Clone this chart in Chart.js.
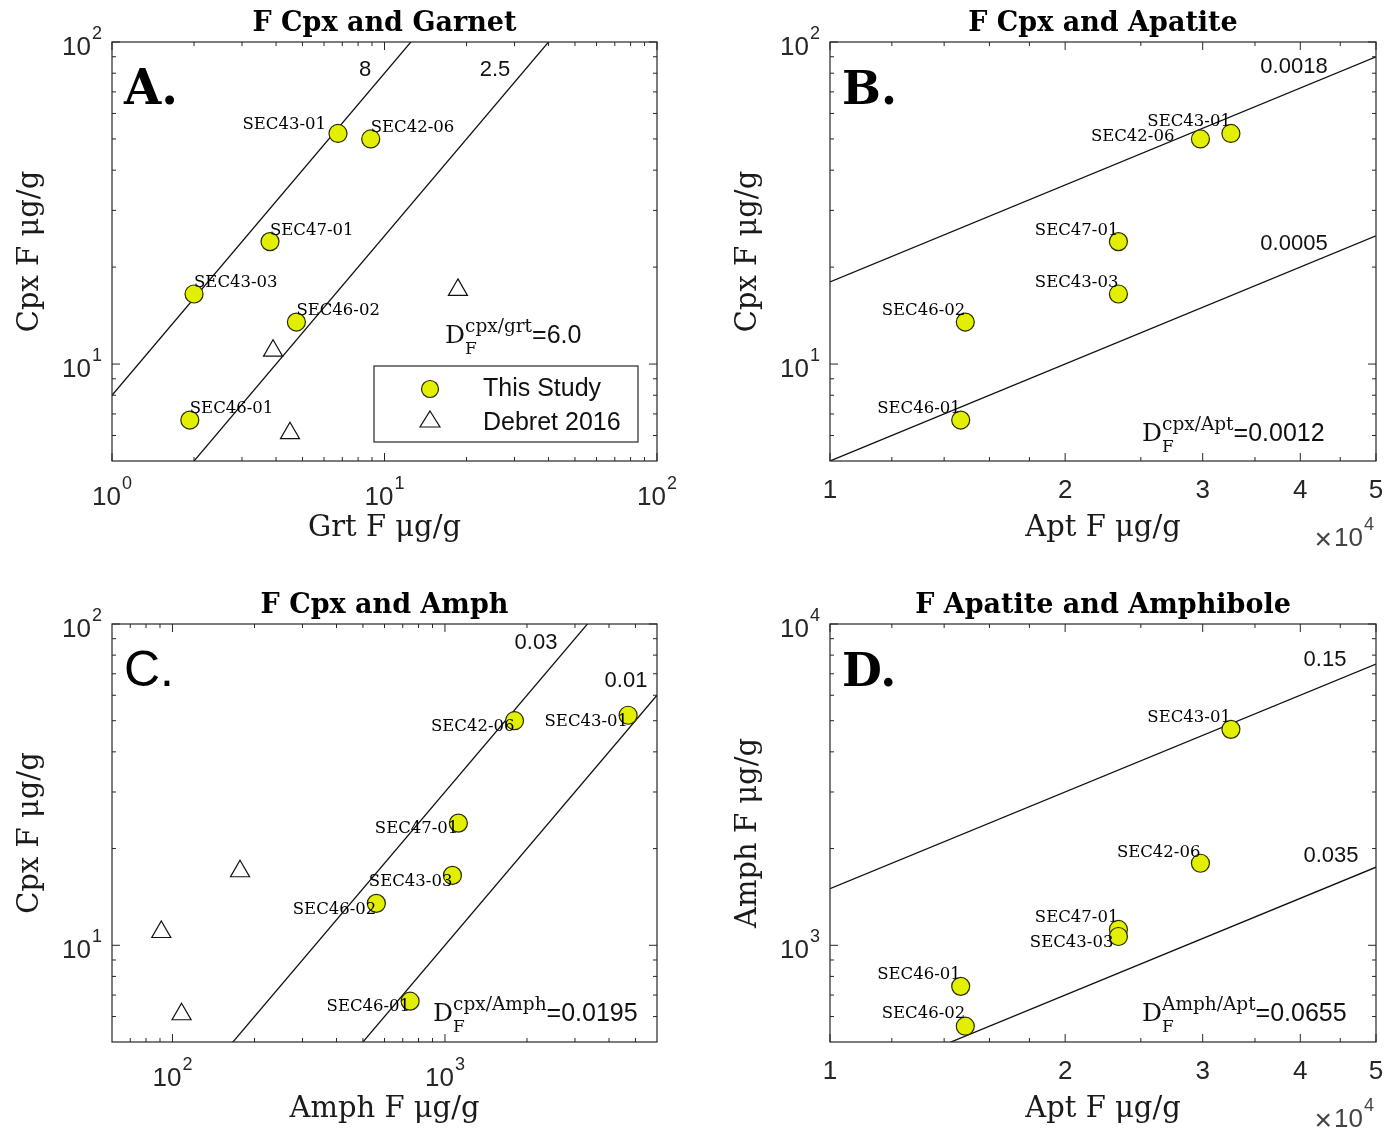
<!DOCTYPE html>
<html>
<head>
<meta charset="utf-8">
<script src="https://cdn.jsdelivr.net/npm/chart.js@4.4.0/dist/chart.umd.min.js"></script>
<style>
  body { margin: 0; background: #fff; width: 1398px; height: 1130px; position: relative; overflow: hidden; }
  .panel { position: absolute; width: 699px; height: 565px; }
</style>
</head>
<body>
<div class="panel" style="left:0;top:0"><canvas id="chartA" width="699" height="565"></canvas></div>
<div class="panel" style="left:699px;top:0"><canvas id="chartB" width="699" height="565"></canvas></div>
<div class="panel" style="left:0;top:565px"><canvas id="chartC" width="699" height="565"></canvas></div>
<div class="panel" style="left:699px;top:565px"><canvas id="chartD" width="699" height="565"></canvas></div>
<script>
// sample data (F in ug/g)
const samples = ['SEC43-01', 'SEC42-06', 'SEC47-01', 'SEC43-03', 'SEC46-02', 'SEC46-01'];
const cpxF = [52, 50, 24, 16.5, 13.5, 6.7];
const grtF = [6.75, 8.9, 3.8, 2.0, 4.75, 1.93];
const aptF = [32600, 29800, 23400, 23400, 14900, 14700];
const amphF = [4700, 1800, 1120, 1065, 560, 745];

// Debret 2016
const debretCpx = [17, 11, 6.1];
const debretGrt = [18.6, 3.9, 4.5];
const debretAmph = [177, 91, 108];

// partition coefficient reference lines
const dCpxGrt = [8, 2.5];
const dCpxApt = [0.0018, 0.0005];
const dCpxAmph = [0.03, 0.01];
const dAmphApt = [0.15, 0.035];
const dMean = ['6.0', '0.0012', '0.0195', '0.0655'];

// ticks
const aptTicks = [10000, 20000, 30000, 40000, 50000];
const aptTickLabels = ['1', '2', '3', '4', '5'];

const INK = '#262626';
const SANS = '"Liberation Sans", Arial, sans-serif';
const SERIF = '"DejaVu Serif", serif';

function minorLog(min, max) {
    const out = [];
    for (let d = 1e-2; d <= 1e5; d *= 10) {
        for (let m = 2; m <= 9; m++) {
            const v = d * m;
            if (v > min && v < max) out.push(v);
        }
    }
    return out;
}

function drawPower(ctx, exp, x, y, align) {
    ctx.font = '26px ' + SANS;
    const wBase = ctx.measureText('10').width;
    ctx.font = '18px ' + SANS;
    const wExp = ctx.measureText(exp).width;
    const total = wBase + wExp + 1;
    const left = align === 'right' ? x - total : x - total / 2;
    ctx.textAlign = 'left';
    ctx.textBaseline = 'middle';
    ctx.font = '26px ' + SANS;
    ctx.fillText('10', left, y);
    ctx.font = '18px ' + SANS;
    ctx.fillText(exp, left + wBase + 1, y - 14);
}

function drawDF(ctx, sup, value, x, y) {
    ctx.textAlign = 'left';
    ctx.textBaseline = 'alphabetic';
    ctx.font = '25px ' + SERIF;
    ctx.fillText('D', x, y);
    const wD = ctx.measureText('D').width;
    ctx.font = '17px ' + SERIF;
    ctx.fillText('F', x + wD, y + 11);
    ctx.font = '18.5px ' + SERIF;
    ctx.fillText(sup, x + wD, y - 11);
    const wSup = ctx.measureText(sup).width;
    ctx.font = '25px ' + SANS;
    ctx.fillText('=' + value, x + wD + wSup, y);
}

const panelDecor = {
    id: 'panelDecor',
    afterDatasetsDraw(chart, args, p) {
        const ctx = chart.ctx;
        const xs = chart.scales.x, ys = chart.scales.y;
        ctx.save();
        ctx.fillStyle = '#000';
        // sample labels
        ctx.font = '16.5px ' + SERIF;
        ctx.textBaseline = 'middle';
        samples.forEach((name, i) => {
            const [dx, dy, align] = p.labelPos[i];
            const px = xs.getPixelForValue(p.xVals[i]);
            const py = ys.getPixelForValue(p.yVals[i]);
            ctx.textAlign = align;
            ctx.fillText(name, px + dx, py + dy);
        });
        ctx.restore();
    },
    afterDraw(chart, args, p) {
        const ctx = chart.ctx;
        const a = chart.chartArea;
        const xs = chart.scales.x, ys = chart.scales.y;
        ctx.save();
        // frame
        ctx.strokeStyle = INK;
        ctx.lineWidth = 1.2;
        ctx.strokeRect(a.left, a.top, a.right - a.left, a.bottom - a.top);
        // tick marks (inward, mirrored)
        ctx.beginPath();
        const tickX = (v, len) => {
            const px = xs.getPixelForValue(v);
            ctx.moveTo(px, a.bottom); ctx.lineTo(px, a.bottom - len);
            ctx.moveTo(px, a.top); ctx.lineTo(px, a.top + len);
        };
        const tickY = (v, len) => {
            const py = ys.getPixelForValue(v);
            ctx.moveTo(a.left, py); ctx.lineTo(a.left + len, py);
            ctx.moveTo(a.right, py); ctx.lineTo(a.right - len, py);
        };
        p.xMajor.forEach(v => tickX(v, 8));
        p.xMinor.forEach(v => tickX(v, 4));
        p.yMajor.forEach(v => tickY(v, 8));
        p.yMinor.forEach(v => tickY(v, 4));
        ctx.lineWidth = 1;
        ctx.stroke();

        ctx.fillStyle = INK;
        // y tick labels
        p.yMajor.forEach(v => {
            drawPower(ctx, String(Math.round(Math.log10(v))), a.left - 10, ys.getPixelForValue(v) + 6, 'right');
        });
        // x tick labels
        if (p.xLabels) {
            ctx.font = '26px ' + SANS;
            ctx.textAlign = 'center';
            ctx.textBaseline = 'middle';
            p.xMajor.forEach((v, i) => ctx.fillText(p.xLabels[i], xs.getPixelForValue(v), a.bottom + 30));
            // x10^4 multiplier
            ctx.fillStyle = '#444';
            drawPower(ctx, '4', a.right - 22, a.bottom + 78, 'center');
            ctx.font = '30px ' + SANS;
            ctx.textAlign = 'right';
            ctx.textBaseline = 'middle';
            ctx.fillText('\u00d7', a.right - 44, a.bottom + 80);
            ctx.fillStyle = INK;
        } else {
            p.xMajor.forEach(v => {
                drawPower(ctx, String(Math.round(Math.log10(v))), xs.getPixelForValue(v), a.bottom + 37, 'center');
            });
        }
        // axis titles
        ctx.fillStyle = '#1a1a1a';
        ctx.font = '29px ' + SERIF;
        ctx.textAlign = 'center';
        ctx.textBaseline = 'middle';
        const cx = (a.left + a.right) / 2, cy = (a.top + a.bottom) / 2;
        ctx.fillText(p.xTitle, cx, a.bottom + 67);
        ctx.save();
        ctx.translate(a.left - 82, cy);
        ctx.rotate(-Math.PI / 2);
        ctx.fillText(p.yTitle, 0, 0);
        ctx.restore();
        // chart title
        ctx.fillStyle = '#000';
        ctx.font = 'bold 27px ' + SERIF;
        ctx.fillText(p.title, cx, a.top - 18);
        // panel letter
        ctx.font = p.letterFont;
        ctx.textAlign = 'left';
        ctx.textBaseline = 'alphabetic';
        ctx.fillText(p.letter, a.left + 12, a.top + 62);
        // line labels
        ctx.font = '22px ' + SANS;
        ctx.fillStyle = '#111';
        ctx.textAlign = 'center';
        ctx.textBaseline = 'middle';
        p.lineLabels.forEach(([txt, lx, ly]) => ctx.fillText(txt, lx - p.off[0], ly - p.off[1]));
        // partition coefficient text
        drawDF(ctx, p.dSup, p.dVal, p.dPos[0] - p.off[0], p.dPos[1] - p.off[1]);
        // legend
        if (p.legend) {
            const [lx, ly, lw, lh] = p.legend.map((v, i) => i < 2 ? v - p.off[i] : v);
            ctx.fillStyle = '#fff';
            ctx.fillRect(lx, ly, lw, lh);
            ctx.strokeStyle = INK;
            ctx.lineWidth = 1.2;
            ctx.strokeRect(lx, ly, lw, lh);
            ctx.beginPath();
            ctx.arc(lx + 56, ly + 23, 8.5, 0, Math.PI * 2);
            ctx.fillStyle = '#e2f000';
            ctx.fill();
            ctx.strokeStyle = '#2b2b00';
            ctx.stroke();
            ctx.beginPath();
            ctx.moveTo(lx + 56, ly + 45);
            ctx.lineTo(lx + 66, ly + 61);
            ctx.lineTo(lx + 46, ly + 61);
            ctx.closePath();
            ctx.strokeStyle = '#111';
            ctx.stroke();
            ctx.fillStyle = '#111';
            ctx.font = '25px ' + SANS;
            ctx.textAlign = 'left';
            ctx.textBaseline = 'middle';
            ctx.fillText('This Study', lx + 109, ly + 23);
            ctx.fillText('Debret 2016', lx + 109, ly + 57);
        }
        ctx.restore();
    }
};

function lineData(d, xMin, xMax) {
    return [{ x: xMin, y: d * xMin }, { x: xMax, y: d * xMax }];
}

function makePanel(canvasId, p) {
    const pts = p.xVals.map((x, i) => ({ x: x, y: p.yVals[i] }));
    const datasets = [{
        data: pts,
        pointStyle: 'circle',
        pointRadius: 9,
        pointBackgroundColor: '#e2f000',
        pointBorderColor: '#2b2b00',
        pointBorderWidth: 1.2,
        showLine: false,
        order: 0
    }];
    if (p.debretX) {
        datasets.push({
            data: p.debretX.map((x, i) => ({ x: x, y: debretCpx[i] })),
            pointStyle: 'triangle',
            pointRadius: 11,
            pointBackgroundColor: 'rgba(0,0,0,0)',
            pointBorderColor: '#111',
            pointBorderWidth: 1.2,
            showLine: false,
            order: 1
        });
    }
    p.lines.forEach(d => {
        datasets.push({
            type: 'line',
            data: lineData(d, p.xMin, p.xMax),
            borderColor: '#111',
            borderWidth: 1.3,
            pointRadius: 0,
            showLine: true,
            clip: 0,
            order: 2
        });
    });
    return new Chart(document.getElementById(canvasId), {
        type: 'scatter',
        data: { datasets: datasets },
        options: {
            responsive: false,
            animation: false,
            events: [],
            layout: { padding: { left: 0, right: p.padR, top: p.padT, bottom: 0 } },
            plugins: { legend: { display: false }, tooltip: { enabled: false }, panelDecor: p },
            scales: {
                x: {
                    type: 'logarithmic', min: p.xMin, max: p.xMax,
                    grid: { display: false }, border: { display: false },
                    ticks: { display: false },
                    afterFit: s => { s.height = p.xH; }
                },
                y: {
                    type: 'logarithmic', min: p.yMin, max: p.yMax,
                    grid: { display: false }, border: { display: false },
                    ticks: { display: false },
                    afterFit: s => { s.width = p.yW; }
                }
            }
        },
        plugins: [panelDecor]
    });
}

makePanel('chartA', {
    off: [0, 0], yW: 112, padR: 42, padT: 42, xH: 104,
    xMin: 1, xMax: 100, yMin: 5, yMax: 100,
    xVals: grtF, yVals: cpxF, debretX: debretGrt, lines: dCpxGrt,
    xMajor: [1, 10, 100], xMinor: minorLog(1, 100),
    yMajor: [10, 100], yMinor: minorLog(5, 100),
    xTitle: 'Grt F \u03bcg/g', yTitle: 'Cpx F \u03bcg/g',
    title: 'F Cpx and Garnet', letter: 'A.', letterFont: 'bold 48px ' + SERIF,
    labelPos: [[-12, -9, 'right'], [0, -11, 'left'], [0, -11, 'left'], [0, -11, 'left'], [0, -11, 'left'], [0, -11, 'left']],
    lineLabels: [['8', 365, 70], ['2.5', 495, 70]],
    dSup: 'cpx/grt', dVal: dMean[0], dPos: [445, 343],
    legend: [374, 366, 264, 76]
});

makePanel('chartB', {
    off: [699, 0], yW: 131, padR: 22, padT: 42, xH: 104,
    xMin: 10000, xMax: 50000, yMin: 5, yMax: 100,
    xVals: aptF, yVals: cpxF, lines: dCpxApt,
    xMajor: aptTicks, xLabels: aptTickLabels, xMinor: [12000, 14000, 16000, 18000, 25000, 35000, 45000],
    yMajor: [10, 100], yMinor: minorLog(5, 100),
    xTitle: 'Apt F \u03bcg/g', yTitle: 'Cpx F \u03bcg/g',
    title: 'F Cpx and Apatite', letter: 'B.', letterFont: 'bold 46px ' + SERIF,
    labelPos: [[0, -12, 'right'], [-26, -2, 'right'], [0, -11, 'right'], [0, -11, 'right'], [0, -11, 'right'], [0, -11, 'right']],
    lineLabels: [['0.0018', 1294, 67], ['0.0005', 1294, 244]],
    dSup: 'cpx/Apt', dVal: dMean[1], dPos: [1142, 441]
});

makePanel('chartC', {
    off: [0, 565], yW: 112, padR: 42, padT: 59, xH: 88,
    xMin: 60, xMax: 6000, yMin: 5, yMax: 100,
    xVals: amphF, yVals: cpxF, debretX: debretAmph, lines: dCpxAmph,
    xMajor: [100, 1000], xMinor: minorLog(60, 6000),
    yMajor: [10, 100], yMinor: minorLog(5, 100),
    xTitle: 'Amph F \u03bcg/g', yTitle: 'Cpx F \u03bcg/g',
    title: 'F Cpx and Amph', letter: 'C.', letterFont: '50px ' + SANS,
    labelPos: [[0, 6, 'right'], [0, 6, 'right'], [0, 6, 'right'], [0, 6, 'right'], [0, 6, 'right'], [0, 6, 'right']],
    lineLabels: [['0.03', 536, 643], ['0.01', 626, 681]],
    dSup: 'cpx/Amph', dVal: dMean[2], dPos: [433, 1021]
});

makePanel('chartD', {
    off: [699, 565], yW: 131, padR: 22, padT: 59, xH: 88,
    xMin: 10000, xMax: 50000, yMin: 500, yMax: 10000,
    xVals: aptF, yVals: amphF, lines: dAmphApt,
    xMajor: aptTicks, xLabels: aptTickLabels, xMinor: [12000, 14000, 16000, 18000, 25000, 35000, 45000],
    yMajor: [1000, 10000], yMinor: minorLog(500, 10000),
    xTitle: 'Apt F \u03bcg/g', yTitle: 'Amph F \u03bcg/g',
    title: 'F Apatite and Amphibole', letter: 'D.', letterFont: 'bold 46px ' + SERIF,
    labelPos: [[0, -12, 'right'], [0, -11, 'right'], [0, -12, 'right'], [-5, 6, 'right'], [0, -12, 'right'], [0, -12, 'right']],
    lineLabels: [['0.15', 1325, 660], ['0.035', 1331, 856]],
    dSup: 'Amph/Apt', dVal: dMean[3], dPos: [1142, 1021]
});
</script>
</body>
</html>
